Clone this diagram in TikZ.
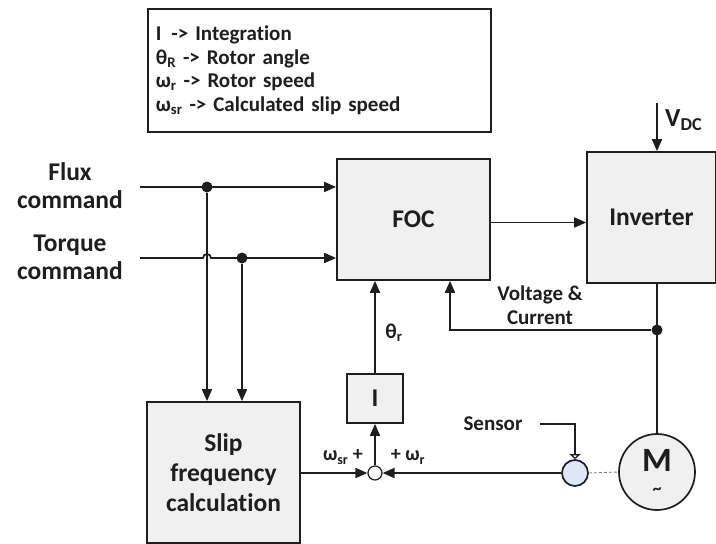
\documentclass[tikz,border=0pt]{standalone}
\usepackage{fontspec}
\setmainfont{Carlito}[Ligatures={TeX,NoCommon}]
\usetikzlibrary{arrows.meta}
\definecolor{boxgray}{HTML}{F0F0F0}
\definecolor{sensblue}{HTML}{E1E6F7}
\definecolor{ink}{HTML}{1E1E1E}
\begin{document}
\begin{tikzpicture}[x=1pt, y=-1pt, line width=1.7pt, color=ink,
  every node/.append style={font=\fontsize{25.5}{28}\selectfont\bfseries},
  blk/.style={draw, fill=boxgray, inner sep=0pt},
  arr/.style={-{Triangle[length=12pt, width=10pt]}},
  dot/.style={circle, fill=ink, inner sep=0pt, minimum size=11pt},
  small/.style={font=\fontsize{21}{23.5}\selectfont\bfseries}]
  \useasboundingbox (0,0) rectangle (716,544);
  % legenda
  \node[draw, fill=white, small, anchor=north west, minimum height=123pt,
    text width=327pt, inner sep=8pt, align=left] (legend) at (147,8)
    {I\hspace{10pt}-> Integration\\
     θ\textsubscript{R} -> Rotor angle\\
     ω\textsubscript{r} -> Rotor speed\\
     ω\textsubscript{sr} -> Calculated slip speed};
  % comandos
  \node[align=center] (flux) at (70,186) {Flux\\command};
  \node[align=center] (torque) at (70,257) {Torque\\command};
  \coordinate (fin) at (140,187);
  \coordinate (tin) at (140,258);
  % bloques
  \node[blk, minimum width=153pt, minimum height=121pt] (foc) at (413.5,219.5) {FOC};
  \node[blk, minimum width=129pt, minimum height=131pt] (inv) at (651.5,217.5) {Inverter};
  \node[blk, minimum width=153pt, minimum height=141pt, align=center,
    font=\fontsize{25.5}{30}\selectfont\bfseries] (slip) at (223.5,472.5)
    {Slip\\frequency\\calculation};
  \node[blk, minimum width=56pt, minimum height=49pt] (intg) at (375,398.5) {I};
  \node[circle, draw, fill=white, minimum size=14pt, inner sep=0pt, line width=1.2pt] (sum) at (375,473) {};
  \node[circle, draw, fill=sensblue, minimum size=26pt, inner sep=0pt] (sens) at (575,473) {};
  \node[circle, draw, fill=boxgray, minimum size=76pt, inner sep=0pt] (mot) at (657,472) {};
  \node[font=\fontsize{34}{34}\selectfont\bfseries] (mtext) at (657,460) {M};
  \node[font=\fontsize{18}{18}\selectfont\bfseries] (tilde) at (657,491) {\textasciitilde};
  % puntos
  \node[dot] (d1) at (207,187) {};
  \node[dot] (d2) at (242,258) {};
  \node[dot] (d3) at (657,330) {};
  \coordinate (jump) at (d1 |- tin);
  % lineas
  \draw[arr] (fin) -- (fin -| foc.west);
  \draw[arr] (tin) -- ([xshift=-4pt]jump) arc[start angle=180, end angle=360, radius=4] -- (tin -| foc.west);
  \draw[arr] (d1) -- (d1 |- slip.north);
  \draw[arr] (d2) -- (d2 |- slip.north);
  \draw[arr] ([yshift=-3pt]foc.east) -- ([yshift=-3pt]foc.east -| inv.west);
  \coordinate (vdc) at (657,103);
  \draw[arr] (vdc) -- (vdc |- inv.north);
  \node[anchor=west, font=\fontsize{26}{26}\selectfont\bfseries] (vdclabel) at (661,120) {V\textsubscript{DC}};
  \draw (inv.south -| mot.north) -- (mot.north);
  \draw[arr] (d3) -| ([xshift=36.5pt]foc.south);
  \node[small, align=center] (vc) at (540,305) {Voltage \&\\Current};
  \draw[arr] (intg.north) -- (intg.north |- foc.south);
  \node[small] (theta) at (394,333) {θ\textsubscript{r}};
  \draw[arr] (slip.east |- sum) -- (sum.west);
  \draw[arr] (sum.north) -- (intg.south);
  \draw[arr] (sens.west) -- (sum.east);
  \draw[densely dashed, line width=0.9pt, gray] (sens.east) -- (mot.west);
  % sensor
  \node[small] (senslabel) at (493,424) {Sensor};
  \draw[-{Triangle[open, length=5pt, width=11pt]}] ([xshift=13pt]senslabel.east) -| (sens.north);
  \node[small, font=\fontsize{20}{20}\selectfont\bfseries] (wsr) at (343,457) {ω\textsubscript{sr} +};
  \node[small, font=\fontsize{20}{20}\selectfont\bfseries] (wr) at (408,457) {+ ω\textsubscript{r}};
\end{tikzpicture}
\end{document}
